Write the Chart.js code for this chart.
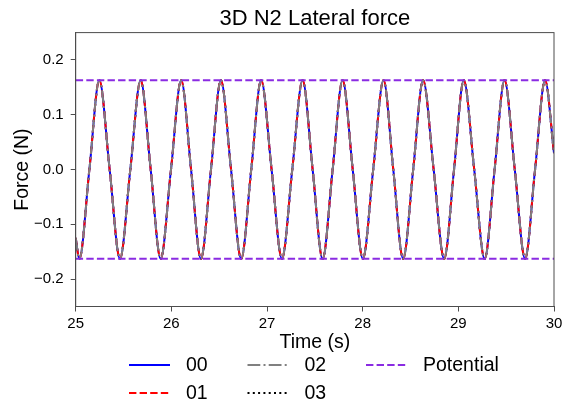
<!DOCTYPE html>
<html>
<head>
<meta charset="utf-8">
<script src="https://cdn.jsdelivr.net/npm/chart.js@4.4.1/dist/chart.umd.min.js"></script>
<style>
    html, body { margin: 0; padding: 0; background: #fff; }
    #wrap { width: 562px; height: 400px; }
</style>
</head>
<body>
<div id="wrap"><canvas id="forceChart" width="562" height="400"></canvas></div>
<script>
// Chart text
const chartTitle = '3D N2 Lateral force';
const xLabel = 'Time (s)';
const yLabel = 'Force (N)';

// Tick positions and labels
const xTicks = [25, 26, 27, 28, 29, 30];
const xTickLabels = ['25', '26', '27', '28', '29', '30'];
const yTicks = [-0.2, -0.1, 0.0, 0.1, 0.2];
const yTickLabels = ['\u22120.2', '\u22120.1', '0.0', '0.1', '0.2'];

// Lateral force, read at the troughs, zero crossings and peaks of the plot.
// The four runs (00..03) sit on top of each other to within a pixel.
const timeS = [
    25.000, 25.038, 25.143, 25.247, 25.355, 25.463, 25.571, 25.679, 25.784, 25.888,
    25.996, 26.103, 26.206, 26.309, 26.414, 26.518, 26.624, 26.730, 26.835, 26.939,
    27.048, 27.156, 27.264, 27.372, 27.477, 27.581, 27.686, 27.790, 27.896, 28.002,
    28.110, 28.218, 28.320, 28.423, 28.528, 28.632, 28.742, 28.852, 28.955, 29.057,
    29.166, 29.275, 29.379, 29.483, 29.590, 29.698, 29.802, 29.907, 30.000
];
const force00 = [
    -0.125, -0.163, 0, 0.163, 0, -0.163, 0, 0.163, 0, -0.163,
    0, 0.163, 0, -0.163, 0, 0.163, 0, -0.163, 0, 0.163,
    0, -0.163, 0, 0.163, 0, -0.163, 0, 0.163, 0, -0.163,
    0, 0.163, 0, -0.163, 0, 0.163, 0, -0.163, 0, 0.163,
    0, -0.163, 0, 0.163, 0, -0.163, 0, 0.163, 0.030
];
const force01 = force00.slice();
const force02 = force00.slice();
const force03 = force00.slice();

// Potential bounds (dashed purple lines)
const potentialTime = [25, 30];
const potentialUpper = [0.163, 0.163];
const potentialLower = [-0.163, -0.163];

const spineColor = '#4d4d4d';
const fontFamily = '"Liberation Sans", Arial, Helvetica, sans-serif';

function toPoints(xs, ys) {
    return xs.map((x, i) => ({ x: x, y: ys[i] }));
}

function runDataset(label, values, color, dash, order) {
    return {
        label: label,
        data: toPoints(timeS, values),
        borderColor: color,
        borderWidth: 2,
        borderDash: dash,
        pointRadius: 0,
        fill: false,
        cubicInterpolationMode: 'monotone',
        order: order
    };
}

// Title, full box and a matplotlib-style legend in columns
const extrasPlugin = {
    id: 'extras',
    afterDraw(chart) {
        const ctx = chart.ctx;
        const area = chart.chartArea;
        ctx.save();

        // top and right spines
        ctx.strokeStyle = spineColor;
        ctx.lineWidth = 1;
        ctx.strokeRect(area.left, area.top, area.right - area.left, area.bottom - area.top);

        // title
        ctx.fillStyle = '#000';
        ctx.font = '22px ' + fontFamily;
        ctx.textAlign = 'center';
        ctx.textBaseline = 'middle';
        ctx.fillText(chartTitle, (area.left + area.right) / 2, 19);

        // legend
        const entries = [
            { ds: 0, col: 0, row: 0 },
            { ds: 1, col: 0, row: 1 },
            { ds: 2, col: 1, row: 0 },
            { ds: 3, col: 1, row: 1 },
            { ds: 4, col: 2, row: 0 }
        ];
        ctx.font = '19.5px ' + fontFamily;
        ctx.textAlign = 'left';
        entries.forEach(e => {
            const ds = chart.data.datasets[e.ds];
            const x0 = 129 + e.col * 118.5;
            const y = 365 + e.row * 28;
            ctx.beginPath();
            ctx.strokeStyle = ds.borderColor;
            ctx.lineWidth = ds.borderWidth;
            ctx.setLineDash(ds.borderDash || []);
            ctx.moveTo(x0, y);
            ctx.lineTo(x0 + 41, y);
            ctx.stroke();
            ctx.setLineDash([]);
            ctx.fillStyle = '#000';
            ctx.fillText(ds.label, x0 + 57, y + 1);
        });
        ctx.restore();
    }
};

document.addEventListener('DOMContentLoaded', function() {
    const ctx = document.getElementById('forceChart').getContext('2d');

    new Chart(ctx, {
        type: 'line',
        data: {
            datasets: [
                runDataset('00', force00, '#0000ff', [], 5),
                runDataset('01', force01, '#ff0000', [7.4, 3.2], 4),
                runDataset('02', force02, '#808080', [12.8, 3.2, 2, 3.2], 3),
                runDataset('03', force03, '#000000', [2, 3.3], 6),
                {
                    label: 'Potential',
                    data: toPoints(potentialTime, potentialUpper),
                    borderColor: '#8a2be2',
                    borderWidth: 2,
                    borderDash: [7.4, 3.2],
                    pointRadius: 0,
                    order: 1
                },
                {
                    label: 'Potential lower',
                    data: toPoints(potentialTime, potentialLower),
                    borderColor: '#8a2be2',
                    borderWidth: 2,
                    borderDash: [7.4, 3.2],
                    pointRadius: 0,
                    order: 1
                }
            ]
        },
        options: {
            responsive: false,
            devicePixelRatio: 1,
            animation: false,
            layout: {
                padding: { top: 32.6, right: 0, bottom: 47.25, left: 0 }
            },
            plugins: {
                legend: { display: false },
                title: { display: false },
                tooltip: { enabled: false }
            },
            scales: {
                x: {
                    type: 'linear',
                    min: 25,
                    max: 30,
                    afterFit: scale => {
                        scale.height = 46.25;
                        scale.paddingRight = 8;
                        scale.paddingLeft = 0;
                    },
                    afterBuildTicks: scale => { scale.ticks = xTicks.map(v => ({ value: v })); },
                    ticks: {
                        color: '#000',
                        padding: 3,
                        maxRotation: 0,
                        font: { family: fontFamily, size: 15 },
                        callback: (value) => xTickLabels[xTicks.indexOf(value)]
                    },
                    grid: {
                        drawOnChartArea: false,
                        drawTicks: true,
                        tickLength: 5,
                        color: spineColor
                    },
                    border: { display: true, color: spineColor },
                    title: {
                        display: true,
                        text: xLabel,
                        color: '#000',
                        padding: { top: 0, bottom: 0 },
                        font: { family: fontFamily, size: 19.5, lineHeight: 1 }
                    }
                },
                y: {
                    min: -0.25,
                    max: 0.25,
                    afterFit: scale => { scale.width = 75.7; },
                    afterBuildTicks: scale => { scale.ticks = yTicks.map(v => ({ value: v })); },
                    ticks: {
                        color: '#000',
                        padding: 7,
                        font: { family: fontFamily, size: 15 },
                        callback: (value) => yTickLabels[yTicks.indexOf(value)]
                    },
                    grid: {
                        drawOnChartArea: false,
                        drawTicks: true,
                        tickLength: 5,
                        color: spineColor
                    },
                    border: { display: true, color: spineColor },
                    title: {
                        display: true,
                        text: yLabel,
                        color: '#000',
                        padding: { top: 13.25, bottom: 0 },
                        font: { family: fontFamily, size: 19.5, lineHeight: 1 }
                    }
                }
            }
        },
        plugins: [extrasPlugin]
    });
});
</script>
</body>
</html>
